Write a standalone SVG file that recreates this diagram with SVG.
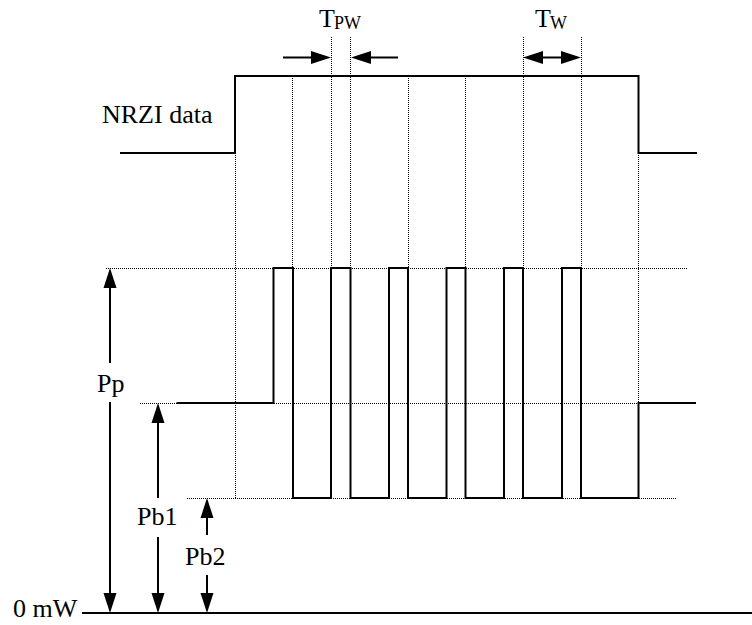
<svg xmlns="http://www.w3.org/2000/svg" width="752" height="625" viewBox="0 0 752 625">
<style>
.sig{fill:none;stroke:#000;stroke-width:2;stroke-linejoin:miter}
.dot{fill:none;stroke:#000;stroke-width:1;stroke-dasharray:1,1;shape-rendering:crispEdges}
.arr{fill:none;stroke:#000;stroke-width:2}
.head{fill:#000;stroke:none}
.t{font-family:"Liberation Serif","Times New Roman",serif;font-size:26px;fill:#000}
.s{font-family:"Liberation Serif","Times New Roman",serif;font-size:18px;fill:#000}
</style>
<rect width="752" height="625" fill="#fff"/>
<g id="guides">
<path class="dot" d="M235.5,153V498M292.5,76V498M331.5,37V498M350.5,37V498M408.5,76V498M465.5,76V498M523.5,37V498M581.5,37V498M638.5,153V498"/>
<path class="dot" d="M106,268.5H687M140,403.5H638M187,498.5H677"/>
</g>
<g id="nrzi-data">
<path class="sig" d="M120,153H235V76H638.5V153H697"/>
<text class="t" x="102" y="123">NRZI data</text>
</g>
<g id="laser-power">
<path class="sig" d="M176.5,403H273.5V268H293V498H331V268H350.5V498H389V268H408V498H446.5V268H465.5V498H504V268H523V498H562V268H581V498H638.5V403H696"/>
</g>
<g id="zero-level">
<path class="sig" d="M82,613H752"/>
<text class="t" x="13" y="617">0 mW</text>
</g>
<g id="labels">
<text class="t" x="319" y="27">T</text><text class="s" x="334" y="29">PW</text>
<text class="t" x="535" y="27">T</text><text class="s" x="550" y="29">W</text>
<text class="t" x="97" y="392">Pp</text>
<text class="t" x="137" y="525">Pb1</text>
<text class="t" x="185" y="565">Pb2</text>
</g>
<g id="connectors">
<path class="arr" d="M283,57.5H312M398,57.5H370M542,57.5H562"/>
<polygon class="head" points="331,57.5 311,51 311,64"/>
<polygon class="head" points="351,57.5 371,51 371,64"/>
<polygon class="head" points="523,57.5 543,51 543,64"/>
<polygon class="head" points="581,57.5 561,51 561,64"/>
<path class="arr" d="M110,363V287M110,402V594M158,422V498M158,537V594M207,517V535M207,575V594"/>
<polygon class="head" points="110,268 103.5,288 116.5,288"/>
<polygon class="head" points="110,613 103.5,593 116.5,593"/>
<polygon class="head" points="158,403 151.5,423 164.5,423"/>
<polygon class="head" points="158,613 151.5,593 164.5,593"/>
<polygon class="head" points="207,498 200.5,518 213.5,518"/>
<polygon class="head" points="207,613 200.5,593 213.5,593"/>
</g>
</svg>
